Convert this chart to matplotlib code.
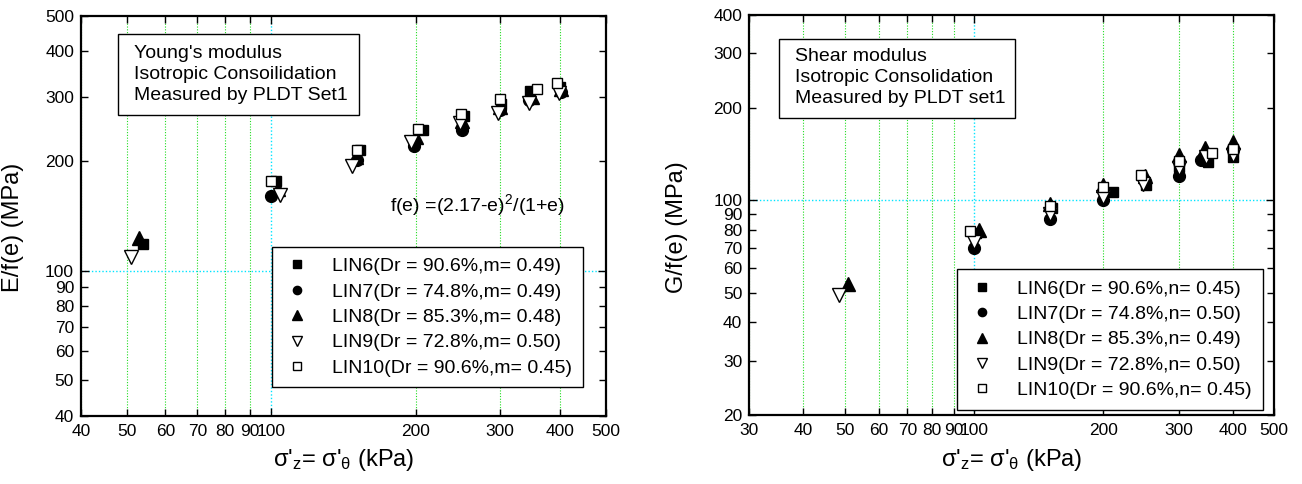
import matplotlib
matplotlib.use('Agg')
import matplotlib.pyplot as plt
from matplotlib.ticker import FixedLocator, FuncFormatter
from matplotlib.patches import Rectangle

plt.rcParams['font.family'] = ['Liberation Sans', 'DejaVu Sans']
plt.rcParams['mathtext.fontset'] = 'custom'
plt.rcParams['mathtext.rm'] = 'Liberation Sans'
plt.rcParams['mathtext.it'] = 'Liberation Sans:italic'

# ---- data: Young's modulus (left) ----
E_lin6_x = [54, 102, 153, 207, 252, 302, 347, 400]
E_lin6_y = [118, 176, 215, 243, 265, 286, 312, 320]
E_lin7_x = [100, 151, 199, 250, 300, 345, 402]
E_lin7_y = [160, 201, 220, 243, 276, 294, 310]
E_lin8_x = [53, 103, 150, 200, 250, 300, 350, 402]
E_lin8_y = [123, 168, 205, 232, 258, 282, 300, 315]
E_lin9_x = [51, 104, 147, 196, 248, 298, 345, 398]
E_lin9_y = [109, 161, 194, 226, 254, 270, 288, 307]
E_lin10_x = [100, 151, 202, 249, 301, 358, 395]
E_lin10_y = [176, 215, 245, 269, 296, 316, 327]
E_labels = ['LIN6(Dr = 90.6%,m= 0.49)', 'LIN7(Dr = 74.8%,m= 0.49)',
            'LIN8(Dr = 85.3%,m= 0.48)', 'LIN9(Dr = 72.8%,m= 0.50)',
            'LIN10(Dr = 90.6%,m= 0.45)']

# ---- data: shear modulus (right) ----
G_lin6_x = [101, 152, 211, 252, 300, 350, 400]
G_lin6_y = [78, 94, 106, 112, 128, 133, 138]
G_lin7_x = [100, 150, 200, 250, 300, 338, 400]
G_lin7_y = [70, 87, 100, 115, 120, 135, 145]
G_lin8_x = [51, 103, 150, 200, 250, 300, 345, 400]
G_lin8_y = [53.5, 80, 97, 112, 120, 140, 148, 155]
G_lin9_x = [48.6, 100, 150, 200, 248, 300, 346, 400]
G_lin9_y = [49, 73, 90, 102, 113, 127, 138, 140]
G_lin10_x = [98, 150, 200, 245, 300, 358, 400]
G_lin10_y = [79.4, 96, 110, 121, 134, 142, 147]
G_labels = ['LIN6(Dr = 90.6%,n= 0.45)', 'LIN7(Dr = 74.8%,n= 0.50)',
            'LIN8(Dr = 85.3%,n= 0.49)', 'LIN9(Dr = 72.8%,n= 0.50)',
            'LIN10(Dr = 90.6%,n= 0.45)']

left_xticks = [40, 50, 60, 70, 80, 90, 200, 300, 400, 500]
left_yticks = [40, 50, 60, 70, 80, 90, 200, 300, 400, 500]
right_xticks = [30, 40, 50, 60, 70, 80, 90, 200, 300, 400, 500]
right_yticks = [20, 30, 40, 50, 60, 70, 80, 90, 200, 300, 400]

styles = [dict(marker='s', mfc='black', ms=7.5),
          dict(marker='o', mfc='black', ms=8.5),
          dict(marker='^', mfc='black', ms=9.5),
          dict(marker='v', mfc='white', ms=9.5),
          dict(marker='s', mfc='white', ms=7.5)]

fig = plt.figure(figsize=(13.02, 4.84), dpi=100)
axL = fig.add_axes([0.0622, 0.1415, 0.4032, 0.8254])
axR = fig.add_axes([0.5755, 0.1426, 0.4032, 0.8264])

fmt = FuncFormatter(lambda v, p: '%g' % v)


def setup(ax, xlim, ylim, xminor, yminor, ylabel):
    ax.set_xscale('log')
    ax.set_yscale('log')
    ax.set_xlim(*xlim)
    ax.set_ylim(*ylim)
    ax.xaxis.set_major_locator(FixedLocator([100]))
    ax.xaxis.set_minor_locator(FixedLocator(xminor))
    ax.yaxis.set_major_locator(FixedLocator([100]))
    ax.yaxis.set_minor_locator(FixedLocator(yminor))
    for a in (ax.xaxis, ax.yaxis):
        a.set_major_formatter(fmt)
        a.set_minor_formatter(fmt)
    ax.tick_params(which='both', direction='in', top=True, right=True,
                   labelsize=12.5, width=1, pad=5)
    ax.tick_params(which='major', length=6)
    ax.tick_params(which='minor', length=5)
    ax.tick_params(axis='x', which='both', pad=6)
    ax.grid(which='major', axis='both', color='#00e5ff', ls=(0, (1, 1.5)), lw=1)
    ax.grid(which='minor', axis='x', color='#22dd22', ls=(0, (1, 1.5)), lw=0.8)
    ax.set_axisbelow(True)
    for s in ax.spines.values():
        s.set_linewidth(1.6)
    ax.set_ylabel(ylabel, fontsize=17)
    ax.yaxis.set_label_coords(-0.108, 0.47)
    ax.set_xlabel("σ'$_\\mathrm{z}$= σ'$_\\mathrm{θ}$ (kPa)", fontsize=17)
    ax.xaxis.set_label_coords(0.5, -0.08)


setup(axL, (40, 500), (40, 500), left_xticks, left_yticks, 'E/f(e) (MPa)')
setup(axR, (30, 500), (20, 400), right_xticks, right_yticks, 'G/f(e) (MPa)')
axR.yaxis.set_label_coords(-0.116, 0.47)

E_series = [(E_lin6_x, E_lin6_y), (E_lin7_x, E_lin7_y), (E_lin8_x, E_lin8_y),
            (E_lin9_x, E_lin9_y), (E_lin10_x, E_lin10_y)]
G_series = [(G_lin6_x, G_lin6_y), (G_lin7_x, G_lin7_y), (G_lin8_x, G_lin8_y),
            (G_lin9_x, G_lin9_y), (G_lin10_x, G_lin10_y)]

for ax, series, labels in ((axL, E_series, E_labels), (axR, G_series, G_labels)):
    for (xs, ys), lab, st in zip(series, labels, styles):
        ax.plot(xs, ys, ls='none', mec='black', mew=1, label=lab, zorder=3, **st)

legkw = dict(loc='upper left', borderaxespad=0, fancybox=False, edgecolor='black',
             framealpha=1, fontsize=14, markerscale=0.7, borderpad=0.55,
             handlelength=1.5, handletextpad=1.05, labelspacing=0.4)
legL = axL.legend(bbox_to_anchor=(0.364, 0.422), **legkw)
legR = axR.legend(bbox_to_anchor=(0.396, 0.364), **legkw)
for leg in (legL, legR):
    leg.get_frame().set_linewidth(1)

# info boxes
axL.add_patch(Rectangle((0.070, 0.752), 0.460, 0.202, transform=axL.transAxes,
                        facecolor='white', edgecolor='black', lw=1, zorder=4))
axL.text(0.101, 0.928, "Young's modulus\nIsotropic Consoilidation\nMeasured by PLDT Set1",
         transform=axL.transAxes, ha='left', va='top', fontsize=14,
         linespacing=1.33, zorder=5)
axL.text(0.589, 0.527, r"f(e) =(2.17-e)$^2$/(1+e)", transform=axL.transAxes,
         ha='left', va='center', fontsize=14)

axR.add_patch(Rectangle((0.0566, 0.742), 0.450, 0.199, transform=axR.transAxes,
                        facecolor='white', edgecolor='black', lw=1, zorder=4))
axR.text(0.088, 0.918, "Shear modulus\nIsotropic Consolidation\nMeasured by PLDT set1",
         transform=axR.transAxes, ha='left', va='top', fontsize=14,
         linespacing=1.33, zorder=5)

fig.savefig('out.png', dpi=100)
